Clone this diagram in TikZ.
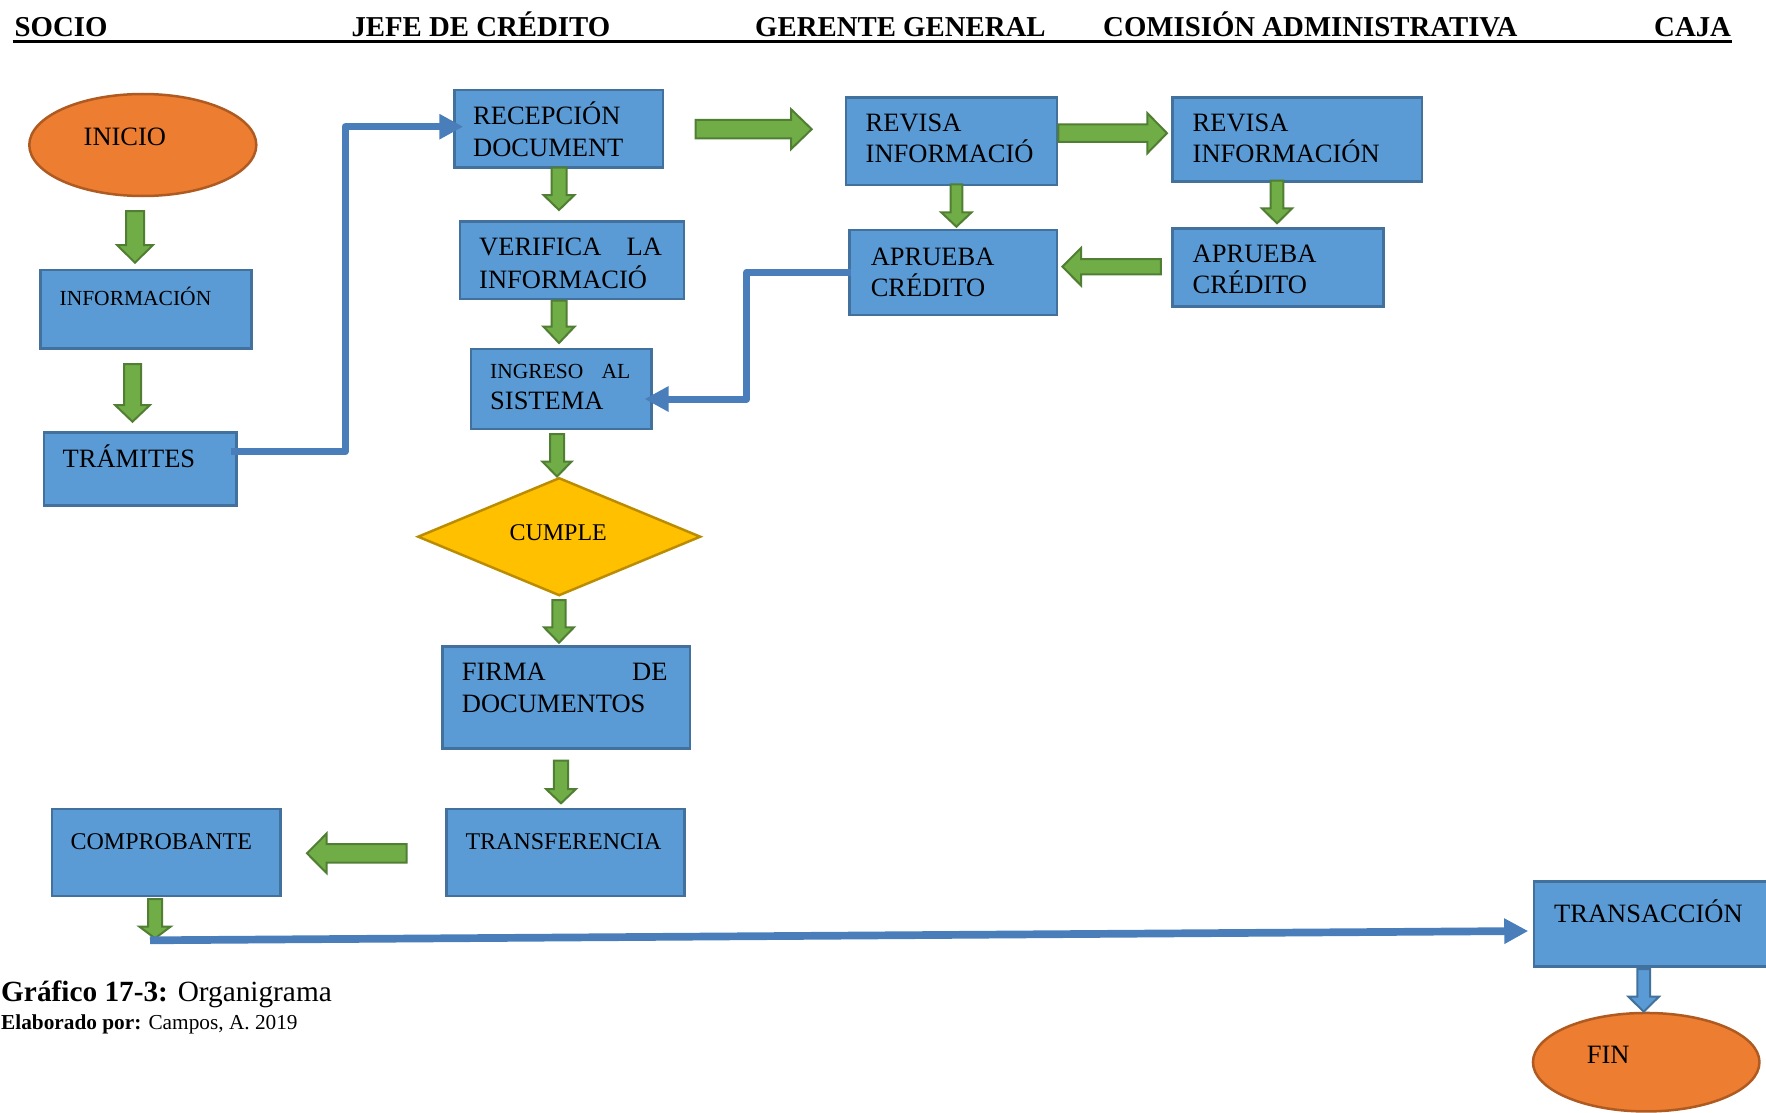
\documentclass[tikz,border=0pt]{standalone}
\usepackage{fontspec}
\setmainfont{Liberation Serif}
\usetikzlibrary{arrows.meta,shapes.geometric}
\definecolor{boxfill}{RGB}{91,155,213}
\definecolor{boxline}{RGB}{65,113,156}
\definecolor{grfill}{RGB}{112,173,71}
\definecolor{grline}{RGB}{80,126,50}
\definecolor{orfill}{RGB}{237,125,49}
\definecolor{orline}{RGB}{174,90,33}
\definecolor{ylfill}{RGB}{255,192,0}
\definecolor{ylline}{RGB}{188,140,0}
\definecolor{conblue}{RGB}{74,126,187}
\tikzset{
  box/.style={draw=boxline, fill=boxfill, line width=2.5pt, rectangle, inner sep=0pt, anchor=north west, xshift=1.25pt, yshift=-1.25pt},
  oval/.style={draw=orline, fill=orfill, line width=2.5pt, ellipse, inner sep=0pt},
  decis/.style={draw=ylline, fill=ylfill, line width=2.5pt, diamond, inner sep=0pt, minimum width=283pt, minimum height=118pt},
  txt/.style={inner sep=0pt, anchor=base west, font=\fontsize{26.5}{31}\selectfont},
  txtm/.style={txt, font=\fontsize{24}{29}\selectfont},
  txts/.style={txt, font=\fontsize{21.5}{26}\selectfont},
  hdr/.style={inner sep=0pt, anchor=base west, font=\fontsize{28.8}{34}\selectfont\bfseries},
  garr/.style={draw=grline, fill=grfill, line width=2pt, line join=miter},
  barr/.style={draw=boxline, fill=boxfill, line width=2pt, line join=miter},
  con/.style={draw=conblue, line width=7pt, line join=round, -{Triangle[length=24pt,width=24pt]}},
}
% vertical block arrow: style, cx, tail y, head start y, tip y, shaft half width, head half width
\newcommand{\vblock}[7]{\filldraw[#1] ({#2-#6},#3) -- ({#2+#6},#3) -- ({#2+#6},#4) -- ({#2+#7},#4) -- (#2,#5) -- ({#2-#7},#4) -- ({#2-#6},#4) -- cycle;}
% horizontal block arrow: style, cy, tail x, head start x, tip x, shaft half, head half
\newcommand{\hblock}[7]{\filldraw[#1] (#3,{#2-#6}) -- (#4,{#2-#6}) -- (#4,{#2-#7}) -- (#5,#2) -- (#4,{#2+#7}) -- (#4,{#2+#6}) -- (#3,{#2+#6}) -- cycle;}
\begin{document}
\begin{tikzpicture}[x=1pt,y=-1pt]
\useasboundingbox (0,0) rectangle (1766,1113);
% header
\node[hdr] (hsocio) at (14.4,36.7) {SOCIO};
\node[hdr] (hjefe) at (351.3,36.7) {JEFE DE CRÉDITO};
\node[hdr] (hger) at (755,36.7) {GERENTE GENERAL};
\node[hdr] (hcom) at (1103,36.7) {COMISIÓN ADMINISTRATIVA};
\node[hdr] (hcaja) at (1654,36.7) {CAJA};
\draw[line width=2.7pt] (12.6,41.5) -- (1732,41.5);

% shapes
\node[oval, minimum width=227pt, minimum height=102pt] (inicio) at (142.8,145) {};
\node[box, minimum width=210.8pt, minimum height=78.1pt] (info) at (38,267.7) {};
\node[box, minimum width=192.6pt, minimum height=73.2pt] (tram) at (41.5,430) {};
\node[box, minimum width=208.7pt, minimum height=77.9pt] (recep) at (451.8,87.3) {};
\node[box, minimum width=224.2pt, minimum height=77.5pt] (verif) at (457.3,219) {};
\node[box, minimum width=180.9pt, minimum height=79.8pt] (ingr) at (468.3,346.7) {};
\node[decis] (cumple) at (559.2,536.7) {};
\node[box, minimum width=247.5pt, minimum height=101.8pt] (firma) at (440,644) {};
\node[box, minimum width=238.3pt, minimum height=86.8pt] (transf) at (443.9,806.7) {};
\node[box, minimum width=228.6pt, minimum height=86.8pt] (compr) at (49.5,806.7) {};
\node[box, minimum width=211pt, minimum height=87.5pt] (revg) at (843.7,95) {};
\node[box, minimum width=207.8pt, minimum height=84.8pt] (aprg) at (846.9,227.7) {};
\node[box, minimum width=249.3pt, minimum height=84.2pt] (revc) at (1170,95) {};
\node[box, minimum width=211pt, minimum height=78.2pt] (aprc) at (1170,226) {};
\node[box, minimum width=245pt, minimum height=85pt] (transa) at (1531.7,879.2) {};
\node[oval, minimum width=226.5pt, minimum height=98.5pt] (fin) at (1646.2,1062.2) {};

% texts
\node[txt] (tinicio) at (83.5,145.7) {INICIO};
\node[txts] (tinfo) at (59.4,305.7) {INFORMACIÓN};
\node[txt] (ttram) at (62.5,467.3) {TRÁMITES};
\node[txt] (trecep1) at (473,124.3) {RECEPCIÓN};
\node[txt] (trecep2) at (473,156) {DOCUMENT};
\node[txt] (tverif1) at (479,255) {\makebox[182.7pt][s]{VERIFICA LA}};
\node[txt] (tverif2) at (479,288.3) {INFORMACIÓ};
\node[txts] (tingr1) at (490,378.3) {\makebox[140pt][s]{INGRESO AL}};
\node[txt] (tingr2) at (490,409.3) {SISTEMA};
\node[txtm] (tcumple) at (509.3,540) {CUMPLE};
\node[txt] (tfirma1) at (461.7,680.7) {\makebox[205.6pt][s]{FIRMA DE}};
\node[txt] (tfirma2) at (461.7,712.7) {DOCUMENTOS};
\node[txtm] (ttransf) at (465.3,849.3) {TRANSFERENCIA};
\node[txtm] (tcompr) at (70.4,849.3) {COMPROBANTE};
\node[txt] (trevg1) at (865.5,131.7) {REVISA};
\node[txt] (trevg2) at (865.5,162.7) {INFORMACIÓ};
\node[txt] (taprg1) at (870.6,265) {APRUEBA};
\node[txt] (taprg2) at (870.6,296) {CRÉDITO};
\node[txt] (trevc1) at (1192.5,131.7) {REVISA};
\node[txt] (trevc2) at (1192.5,162.7) {INFORMACIÓN};
\node[txt] (taprc1) at (1192.5,262.7) {APRUEBA};
\node[txt] (taprc2) at (1192.5,293.3) {CRÉDITO};
\node[txt] (ttransa) at (1554,922.3) {TRANSACCIÓN};
\node[txt] (tfin) at (1586.7,1063.3) {FIN};

% green block arrows
\vblock{garr}{135}{211}{245}{262.7}{9}{18}
\vblock{garr}{132.5}{364}{405}{421.7}{8.5}{17.5}
\vblock{garr}{559}{167.7}{195}{210}{7.5}{15.5}
\vblock{garr}{559}{300.7}{326.7}{343}{7.5}{15.5}
\vblock{garr}{557}{434}{461.7}{476.5}{7}{14.5}
\vblock{garr}{559}{600}{627.3}{642.7}{6.7}{15}
\vblock{garr}{561}{760.7}{789}{803.3}{7.2}{15}
\hblock{garr}{853.3}{406.6}{326.5}{307}{9.2}{19.7}
\hblock{garr}{129.2}{695.7}{791}{811.7}{9.2}{20}
\hblock{garr}{133.2}{1058.4}{1147.4}{1167}{8.7}{20}
\vblock{garr}{956.4}{184.3}{212.3}{226.7}{5.9}{15.2}
\vblock{garr}{1277}{180.7}{208.3}{223.3}{6.3}{15.2}
\hblock{garr}{266.7}{1160.8}{1081}{1062.4}{7.7}{18.7}
\vblock{garr}{155}{899}{926.7}{938.3}{7}{15.5}
\vblock{barr}{1643.7}{969}{996.7}{1011.7}{6.3}{15.2}

% blue connectors
\draw[con] ([xshift=-6.6pt]tram.east |- 0,451.7) -- (345,451.7) -- (345,126.7) -- ([xshift=10.2pt]recep.west |- 0,126.7);
\draw[con] ([xshift=3.1pt]aprg.west |- 0,272.3) -- (746.7,272.3) -- (746.7,399) -- ([xshift=-8.4pt]ingr.east |- 0,399);
\draw[con, line width=7.7pt] (150,940.3) -- ([xshift=-4.7pt]transa.west |- 0,931);

% caption
\node[inner sep=0pt, anchor=base west, font=\fontsize{29.3}{34}\selectfont] (cap1) at (1,1001.7) {\textbf{Gráfico 17-3:} Organigrama};
\node[inner sep=0pt, anchor=base west, font=\fontsize{21.3}{25}\selectfont] (cap2) at (1,1029) {\textbf{Elaborado por:} Campos, A. 2019};
\end{tikzpicture}
\end{document}
